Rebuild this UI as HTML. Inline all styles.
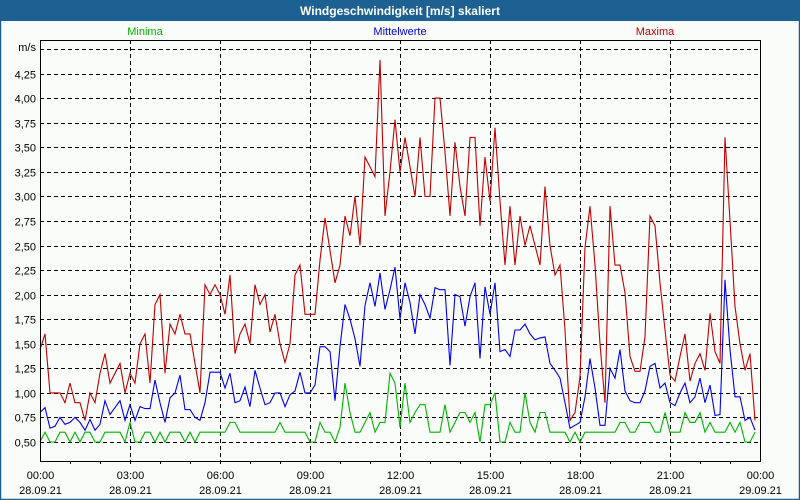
<!DOCTYPE html>
<html><head><meta charset="utf-8"><style>
html,body{margin:0;padding:0;width:800px;height:500px;overflow:hidden;background:#fafcfa;}
svg{display:block;font-family:"Liberation Sans",sans-serif;}
</style></head><body>
<svg id="chart" width="800" height="500" viewBox="0 0 800 500">
<rect x="0" y="0" width="800" height="500" fill="#fafcfa"/>
<rect x="0.5" y="0.5" width="799" height="499" fill="none" stroke="#1d6193" stroke-width="1.5"/>
<rect x="0" y="0" width="800" height="21" fill="#1d6193"/>
<text x="400" y="15" text-anchor="middle" font-size="12" font-weight="bold" fill="#fff">Windgeschwindigkeit [m/s] skaliert</text>
<text x="145" y="35" text-anchor="middle" font-size="11" fill="#00b000">Minima</text>
<text x="400" y="35" text-anchor="middle" font-size="11" fill="#0000e0">Mittelwerte</text>
<text x="655" y="35" text-anchor="middle" font-size="11" fill="#c00000">Maxima</text>
<text x="36" y="51" text-anchor="end" font-size="11" fill="#000">m/s</text>
<g id="grid"></g><g id="series"></g><g id="axes"></g>
</svg>
<script>
const yTicks=[0.5,0.75,1.0,1.25,1.5,1.75,2.0,2.25,2.5,2.75,3.0,3.25,3.5,3.75,4.0,4.25,4.5];
const yTickLabels=["0,50","0,75","1,00","1,25","1,50","1,75","2,00","2,25","2,50","2,75","3,00","3,25","3,50","3,75","4,00","4,25",""];
const xTickHours=[0,3,6,9,12,15,18,21,24];
const xTickTimes=["00:00","03:00","06:00","09:00","12:00","15:00","18:00","21:00","00:00"];
const xTickDates=["28.09.21","28.09.21","28.09.21","28.09.21","28.09.21","28.09.21","28.09.21","28.09.21","29.09.21"];
const maxima=[1.44,1.6,1.0,1.0,1.0,0.9,1.1,0.9,0.9,0.72,1.0,0.9,1.2,1.4,1.1,1.2,1.3,1.0,1.2,1.1,1.5,1.6,1.1,1.9,2.0,1.2,1.7,1.6,1.8,1.6,1.6,1.3,1.0,2.1,2.0,2.1,2.0,1.8,2.2,1.4,1.6,1.7,1.5,2.1,1.9,2.0,1.62,1.8,1.5,1.31,1.5,2.2,2.3,1.8,1.8,1.8,2.35,2.78,2.45,2.12,2.3,2.8,2.6,3.0,2.5,3.4,3.3,3.2,4.39,2.8,3.25,3.78,3.25,3.6,3.3,3.0,3.6,3.0,3.0,4.0,4.0,3.45,2.8,3.55,3.1,2.8,3.6,3.6,2.7,3.4,2.95,3.7,2.95,2.3,2.9,2.3,2.8,2.5,2.7,2.5,2.3,3.1,2.5,2.2,2.3,1.64,0.72,0.8,1.16,2.48,2.9,2.3,1.5,0.9,2.9,2.3,2.3,2.02,1.37,1.22,1.22,1.57,2.8,2.7,2.12,1.64,1.18,1.12,1.37,1.6,1.12,1.3,1.4,1.23,1.81,1.42,1.3,3.6,2.75,1.88,1.5,1.23,1.4,0.72];
const mittel=[0.8,0.85,0.64,0.66,0.75,0.68,0.7,0.75,0.7,0.62,0.73,0.62,0.68,0.92,0.78,0.85,0.92,0.72,0.88,0.72,0.86,0.84,0.84,1.13,0.9,0.7,0.95,1.0,1.18,0.83,0.83,0.75,0.72,0.9,1.21,1.21,1.21,1.05,1.2,0.9,0.92,1.06,0.86,1.23,1.05,0.88,0.9,1.0,1.0,0.86,0.98,1.02,1.21,1.0,1.0,1.08,1.47,1.47,1.42,0.92,1.47,1.9,1.75,1.55,1.27,1.89,2.12,1.88,2.22,1.85,2.05,2.28,1.75,2.12,1.92,1.6,2.0,1.9,1.76,2.07,2.05,2.05,1.28,2.0,1.98,1.68,1.98,2.12,1.35,2.08,1.8,2.12,1.42,1.44,1.37,1.64,1.64,1.7,1.6,1.54,1.56,1.57,1.3,1.23,1.15,0.9,0.64,0.67,0.7,0.96,1.35,1.05,0.67,0.67,1.25,1.15,1.44,1.02,0.92,0.9,0.9,1.02,1.27,1.3,1.05,1.1,0.9,0.87,1.0,1.1,0.9,0.96,1.15,0.9,1.08,0.77,0.78,2.15,1.44,0.96,0.96,0.72,0.75,0.62];
const minima=[0.5,0.6,0.5,0.5,0.6,0.6,0.5,0.6,0.5,0.6,0.6,0.5,0.5,0.6,0.6,0.6,0.6,0.5,0.7,0.5,0.5,0.6,0.6,0.5,0.6,0.5,0.6,0.6,0.6,0.5,0.6,0.5,0.6,0.6,0.6,0.6,0.6,0.6,0.7,0.7,0.6,0.6,0.6,0.6,0.6,0.6,0.6,0.6,0.7,0.6,0.6,0.6,0.6,0.6,0.5,0.5,0.7,0.6,0.6,0.5,0.65,1.1,0.8,0.6,0.6,0.7,0.8,0.6,0.7,0.7,1.2,1.1,0.65,1.1,0.7,0.8,0.88,0.88,0.6,0.6,0.6,0.88,0.6,0.7,0.8,0.8,0.7,0.8,0.5,0.88,0.88,1.0,0.5,0.5,0.7,0.6,0.6,1.0,0.7,0.6,0.8,0.8,0.6,0.6,0.6,0.6,0.5,0.6,0.5,0.6,0.6,0.6,0.6,0.6,0.6,0.6,0.7,0.7,0.6,0.6,0.7,0.7,0.7,0.6,0.6,0.8,0.6,0.6,0.6,0.8,0.7,0.7,0.8,0.6,0.7,0.6,0.6,0.6,0.7,0.6,0.7,0.5,0.5,0.6];
const NS='http://www.w3.org/2000/svg';
const L=40,R=760,T=40,B=461;
function yScale(v){return 442-(v-0.5)*(442-49)/4.0;}
function xScaleHour(h){return L+(R-L)*h/24;}
function xScaleIdx(i){return xScaleHour(i/6);}
function mk(tag,attrs,parent){const e=document.createElementNS(NS,tag);for(const k in attrs)e.setAttribute(k,attrs[k]);parent.appendChild(e);return e;}
const grid=document.getElementById('grid'),axes=document.getElementById('axes'),series=document.getElementById('series');
yTicks.forEach((v,i)=>{const y=Math.round(yScale(v))+0.5;
 const ln=mk('line',{x1:L,x2:R,y1:y,y2:y,stroke:'#000','stroke-dasharray':'4,3','stroke-width':1},grid);
 
 
 if(yTickLabels[i]){const t=mk('text',{x:36,y:y+4,'text-anchor':'end','font-size':11,fill:'#000'},axes);t.textContent=yTickLabels[i];
 
 }
});
xTickHours.forEach((h,i)=>{const x=Math.round(xScaleHour(h))+0.5;
 if(h>0&&h<24){const ln=mk('line',{x1:x,x2:x,y1:T,y2:B,stroke:'#000','stroke-dasharray':'4,3','stroke-width':1},grid);
 
 }
 const t1=mk('text',{x:x,y:479,'text-anchor':'middle','font-size':11,fill:'#000'},axes);t1.textContent=xTickTimes[i];
 
 
 const t2=mk('text',{x:x,y:494,'text-anchor':'middle','font-size':11,fill:'#000'},axes);t2.textContent=xTickDates[i];
 
 
});
for(let h=1;h<24;h++){const x=Math.round(xScaleHour(h))+0.5;const tk=mk('line',{x1:x,x2:x,y1:B,y2:B+3,stroke:'#000'},axes);
 
 }
const frame=mk('path',{d:`M${L+0.5},${T+0.5}H${R+0.5}V${B+0.5}H${L+0.5}Z`,fill:'none',stroke:'#000','stroke-width':1},axes);


function line(data,color,name){const d=data.map((v,i)=>(i?'L':'M')+xScaleIdx(i).toFixed(1)+','+yScale(v).toFixed(1)).join('');
 const p=mk('path',{d:d,fill:'none',stroke:color,'stroke-width':1.1},series);
 
 }
line(minima,'#00b400','minima-line');
line(mittel,'#0000f0','mittelwerte-line');
line(maxima,'#c00000','maxima-line');
</script>
</body></html>
